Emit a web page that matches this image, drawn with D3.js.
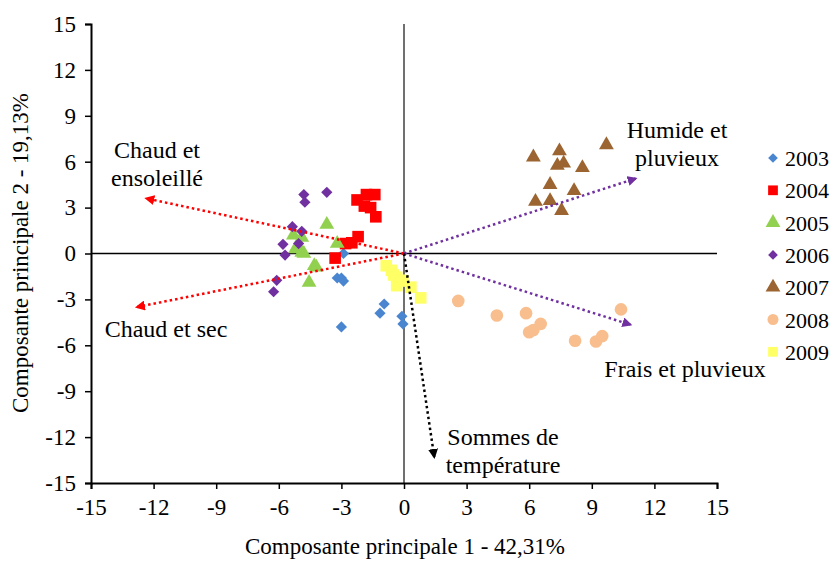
<!DOCTYPE html>
<html>
  <head>
    <meta charset="UTF-8" />
    <script src="https://d3js.org/d3.v7.min.js"></script>
    <style>
      body { margin: 0; background: #fff; }
    </style>
  </head>
  <body>
    <div id="chart"></div>
    <script>
      // scores per year, [PC1, PC2]
      var y2003 = [[-2.9, 0.0], [-3.0, -1.6], [-2.9, -1.8], [-3.2, -1.6], [-0.95, -3.3],
                   [-1.15, -3.9], [-0.1, -4.1], [-0.05, -4.6], [-3.0, -4.8]];
      var y2004 = [[-2.25, 3.5], [-1.8, 3.85], [-1.4, 3.85], [-1.9, 3.1], [-1.6, 3.0],
                   [-1.35, 2.4], [-2.2, 1.1], [-2.8, 0.65], [-2.5, 0.7], [-3.3, -0.3]];
      var y2005 = [[-3.7, 1.9], [-3.2, 0.65], [-5.3, 1.2], [-4.9, 1.05], [-5.2, 0.3],
                   [-4.9, 0.07], [-4.8, 0.0], [-4.3, -0.8], [-4.2, -0.9], [-4.55, -1.9]];
      var y2006 = [[-4.8, 3.85], [-4.75, 3.35], [-3.7, 4.0], [-5.35, 1.75], [-4.9, 1.45],
                   [-5.8, 0.6], [-5.05, 0.65], [-5.7, -0.1], [-6.1, -1.75], [-6.25, -2.5]];
      var y2007 = [[6.2, 6.3], [7.45, 6.7], [7.35, 5.75], [7.65, 5.9], [8.55, 5.6],
                   [9.7, 7.1], [7.0, 4.5], [8.15, 4.1], [6.3, 3.4], [7.0, 3.45], [7.55, 2.8]];
      var y2008 = [[2.6, -3.1], [4.45, -4.05], [5.85, -3.9], [6.55, -4.6], [6.0, -5.15],
                   [6.2, -5.0], [8.2, -5.7], [9.2, -5.75], [9.5, -5.4], [10.4, -3.65]];
      var y2009 = [[-0.85, -0.8], [-0.6, -1.1], [-0.5, -1.4], [-0.35, -1.55], [-0.15, -1.75],
                   [-0.05, -1.8], [-0.35, -2.1], [0.33, -2.2], [0.8, -2.9]];

      var years = ["2003", "2004", "2005", "2006", "2007", "2008", "2009"];
      var yearData = [y2003, y2004, y2005, y2006, y2007, y2008, y2009];
      var colors = ["#4a86d0", "#ff0000", "#92d050", "#7030a0", "#9c6430", "#f9be8e", "#ffff66"];
      var shapes = ["diamond", "square", "triangle", "diamond", "triangle", "circle", "square"];

      // variable vectors
      var vecNames = [["Chaud et", "ensoleillé"], ["Chaud et sec"], ["Humide et", "pluvieux"],
                      ["Frais et pluvieux"], ["Sommes de", "température"]];
      var vecEnds = [[-12.35, 3.6], [-12.8, -3.5], [11.1, 4.9], [10.85, -4.65], [1.45, -13.3]];
      var vecColors = ["#ff0000", "#ff0000", "#7030a0", "#7030a0", "#000000"];

      var ticks = [-15, -12, -9, -6, -3, 0, 3, 6, 9, 12, 15];

      var FONT = "Liberation Serif";
      var width = 834, height = 563;
      var svg = d3.select("#chart").append("svg")
        .attr("width", width).attr("height", height);

      var x = d3.scaleLinear().domain([-15, 15]).range([91, 717]);
      var y = d3.scaleLinear().domain([-15, 15]).range([483, 24]);

      // zero lines
      svg.append("line").attr("x1", x(0)).attr("x2", x(0)).attr("y1", y(15)).attr("y2", y(-15))
        .attr("stroke", "#404040").attr("stroke-width", 1.5);
      svg.append("line").attr("x1", x(-15)).attr("x2", x(15)).attr("y1", y(0)).attr("y2", y(0))
        .attr("stroke", "#000").attr("stroke-width", 1.5);

      // axes
      var fmt = function (d) { return String(d); };
      var xAxis = svg.append("g").attr("transform", "translate(0," + y(-15) + ")")
        .call(d3.axisBottom(x).tickValues(ticks).tickFormat(fmt).tickSizeOuter(0).tickSize(6).tickPadding(10));
      var yAxis = svg.append("g").attr("transform", "translate(" + x(-15) + ",0)")
        .call(d3.axisLeft(y).tickValues(ticks).tickFormat(fmt).tickSizeOuter(0).tickSize(6).tickPadding(9));
      [xAxis, yAxis].forEach(function (g) {
        g.select(".domain").attr("stroke", "#000").attr("stroke-width", 2);
        g.selectAll(".tick line").attr("stroke", "#000").attr("stroke-width", 1.5);
        g.selectAll(".tick text").attr("fill", "#000")
          .style("font-family", FONT).style("font-size", "23px");
      });

      // points
      var symType = { diamond: d3.symbolDiamond2, square: d3.symbolSquare,
                      triangle: d3.symbolTriangle, circle: d3.symbolCircle };
      var symSize = { diamond: 80, square: 135, triangle: 95, circle: 125 };
      yearData.forEach(function (pts, i) {
        svg.append("g").selectAll("path").data(pts).join("path")
          .attr("d", d3.symbol().type(symType[shapes[i]]).size(symSize[shapes[i]]))
          .attr("transform", function (d) {
            return "translate(" + x(d[0]) + "," + y(d[1]) + ")";
          })
          .attr("fill", colors[i]);
      });

      // vectors
      svg.append("defs").selectAll("marker").data(vecColors).join("marker")
        .attr("id", function (d, i) { return "arr" + i; })
        .attr("viewBox", "0 -5 10 10").attr("refX", 8).attr("refY", 0)
        .attr("markerWidth", 4).attr("markerHeight", 4).attr("orient", "auto")
        .attr("markerUnits", "strokeWidth")
        .append("path").attr("d", "M0,-5L10,0L0,5Z").attr("fill", function (d) { return d; });

      svg.append("g").selectAll("line").data(vecEnds).join("line")
        .attr("x1", x(0)).attr("y1", y(0))
        .attr("x2", function (d) { return x(d[0]); })
        .attr("y2", function (d) { return y(d[1]); })
        .attr("stroke", function (d, i) { return vecColors[i]; })
        .attr("stroke-width", 2.5)
        .attr("stroke-dasharray", "2.5,3")
        .attr("marker-end", function (d, i) { return "url(#arr" + i + ")"; });

      // vector labels (first-line baseline, centre)
      var labelPos = [[157, 158], [166, 337], [677, 138], [685, 377], [503, 445]];
      vecNames.forEach(function (lines, i) {
        var t = svg.append("text").attr("text-anchor", "middle")
          .style("font-family", FONT).style("font-size", "24px")
          .attr("x", labelPos[i][0]).attr("y", labelPos[i][1]);
        lines.forEach(function (s, k) {
          t.append("tspan").attr("x", labelPos[i][0]).attr("dy", k === 0 ? 0 : 28).text(s);
        });
      });

      // legend
      var leg = svg.append("g");
      years.forEach(function (yr, i) {
        var ly = 158 + i * 32.3;
        leg.append("path")
          .attr("d", d3.symbol().type(symType[shapes[i]]).size(shapes[i] === "diamond" ? 60 : 95))
          .attr("transform", "translate(773," + ly + ")")
          .attr("fill", colors[i]);
        leg.append("text").attr("x", 785).attr("y", ly + 8)
          .style("font-family", FONT).style("font-size", "22px").text(yr);
      });

      // axis titles
      svg.append("text").attr("x", 405).attr("y", 554).attr("text-anchor", "middle")
        .style("font-family", FONT).style("font-size", "23px")
        .text("Composante principale 1 - 42,31%");
      svg.append("text").attr("transform", "translate(28,253) rotate(-90)")
        .attr("text-anchor", "middle")
        .style("font-family", FONT).style("font-size", "23px")
        .text("Composante principale 2 - 19,13%");
    </script>
  </body>
</html>
